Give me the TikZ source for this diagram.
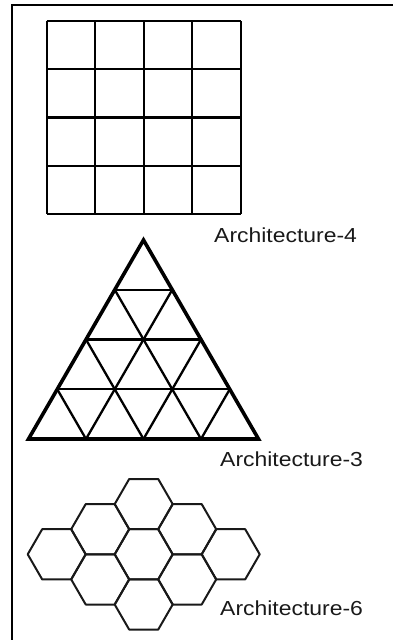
\documentclass[tikz,border=0pt]{standalone}
\usepackage{fontspec}
\setmainfont{Liberation Sans}
\usetikzlibrary{calc}
\tikzset{
  gridline/.style={line width=2.3pt, black},
  triout/.style={line width=3.6pt, black, line join=miter},
  triin/.style={line width=2.3pt, black},
  hexline/.style={line width=2pt, black!90, line join=round},
  frameline/.style={line width=2.8pt, black},
  archlabel/.style={anchor=base west, inner sep=0pt, font=\fontsize{20.3}{24}\selectfont, text=black!90}
}
\begin{document}
\begin{tikzpicture}[x=1pt, y=-1pt]
\useasboundingbox (0,0) rectangle (393,640);
% frame (top and left only)
\draw[frameline] (12,640) -- (12,5) -- (393,5);

% Architecture-4: square grid
\foreach \i in {0,...,4}{
  \draw[gridline] ({46.7+48.5*\i},21) -- ({46.7+48.5*\i},214);
  \draw[gridline] (46.7,{21+48.25*\i}) -- (240.7,{21+48.25*\i});
}
\node[archlabel] (l4) at (214,242.7) {\scalebox{1.13}[1]{Architecture-4}};

% Architecture-3: triangular grid
\coordinate (A) at (143.5,240);
\coordinate (L) at (28.5,439);
\coordinate (R) at (258.5,439);
\foreach \k in {1,2,3}{
  \draw[triin] ($(A)!\k/4!(L)$) -- ($(A)!\k/4!(R)$);
  \draw[triin] ($(L)!\k/4!(R)$) -- ($(A)!\k/4!(R)$);
  \draw[triin] ($(L)!\k/4!(R)$) -- ($(A)!1-\k/4!(L)$);
}
\draw[triout] (A) -- (L) -- (R) -- cycle;
\node[archlabel] (l3) at (220,466.7) {\scalebox{1.13}[1]{Architecture-3}};

% Architecture-6: hexagonal grid
\def\hexR{29}
\def\hexH{25.1}
\foreach \cx/\cy in {143.7/504.1, 100.2/529.2, 187.2/529.2, 56.7/554.3, 143.7/554.3, 230.7/554.3, 100.2/579.4, 187.2/579.4, 143.7/604.5}{
  \draw[hexline] ({\cx+\hexR},\cy) -- ({\cx+\hexR/2},{\cy-\hexH}) -- ({\cx-\hexR/2},{\cy-\hexH}) -- ({\cx-\hexR},\cy) -- ({\cx-\hexR/2},{\cy+\hexH}) -- ({\cx+\hexR/2},{\cy+\hexH}) -- cycle;
}
\node[archlabel] (l6) at (220,615) {\scalebox{1.13}[1]{Architecture-6}};
\end{tikzpicture}
\end{document}
